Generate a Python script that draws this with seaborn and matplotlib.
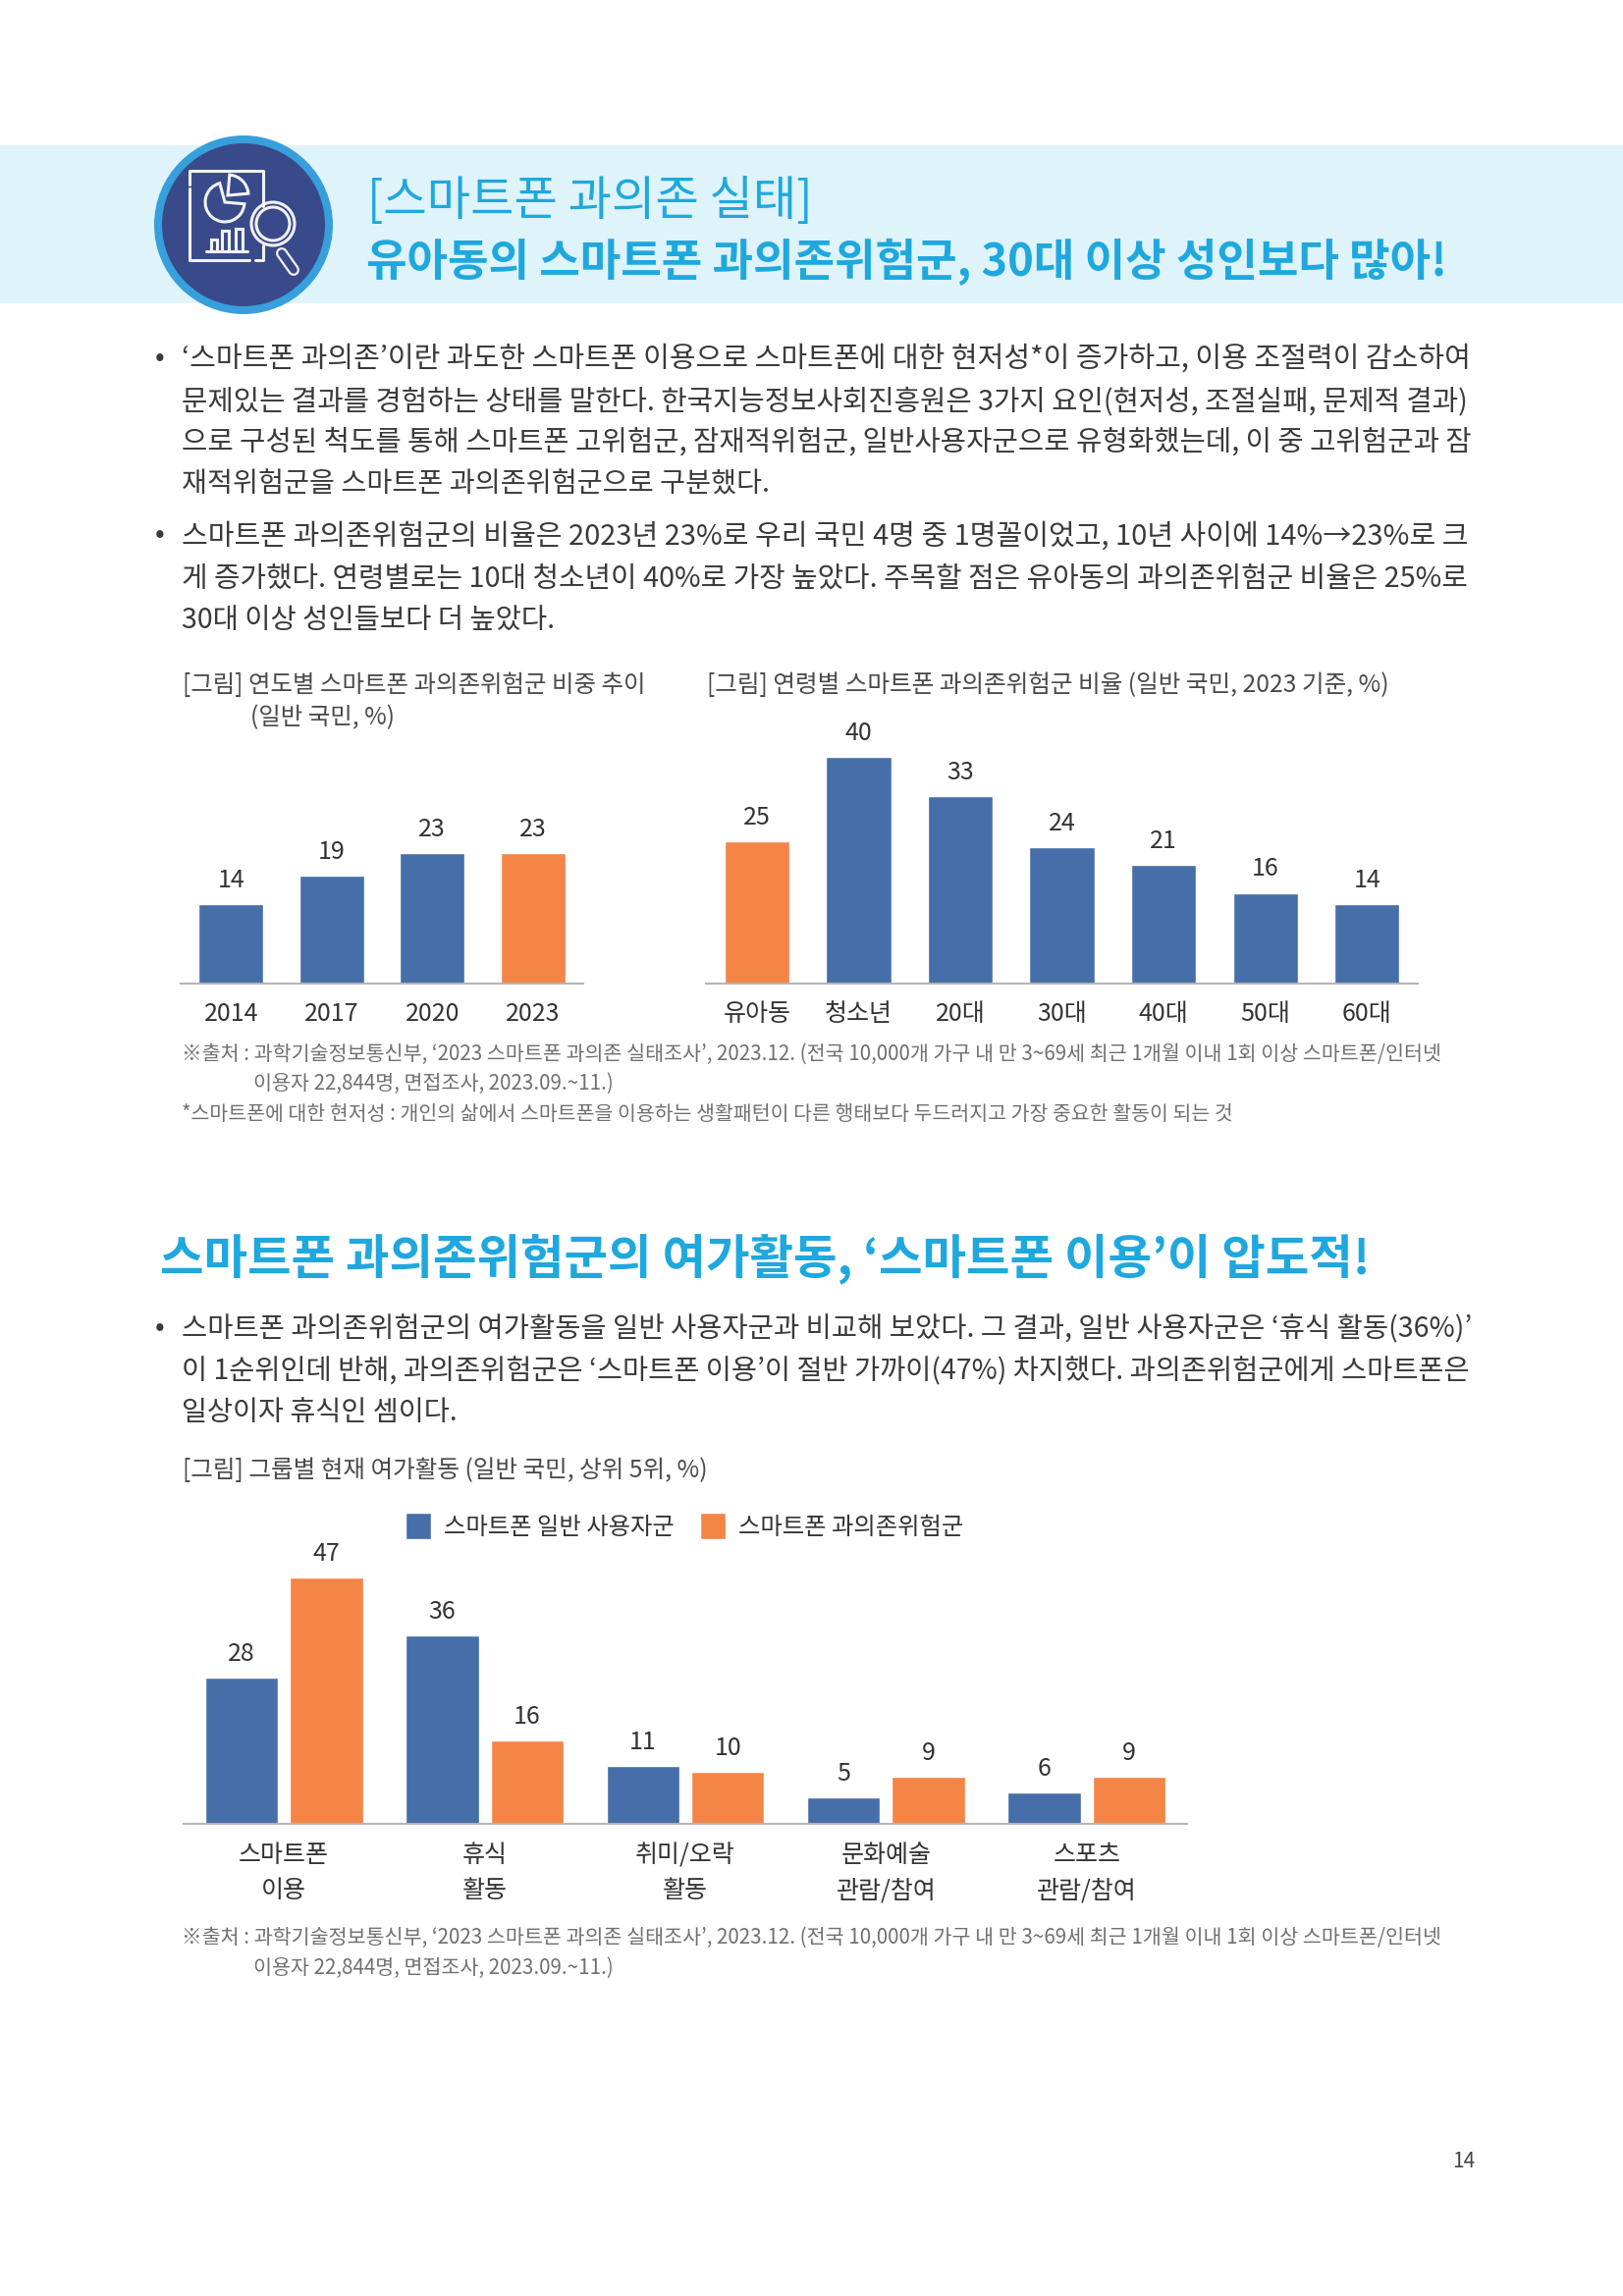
import matplotlib
matplotlib.use("Agg")
import matplotlib.pyplot as plt
import matplotlib.patches as mpatches
import pandas as pd
import seaborn as sns

W, H = 1653, 2339
BLUE = "#466ea8"
ORANGE = "#f58546"
SKY = "#1fa8de"
DARK = "#3a3a3a"
GREY = "#707070"
NAVY = "#394a8a"
ICON = "#f2f2f7"

# chart data
years = ["2014", "2017", "2020", "2023"]
year_values = [14, 19, 23, 23]
ages = ["유아동", "청소년", "20대", "30대", "40대", "50대", "60대"]
age_values = [25, 40, 33, 24, 21, 16, 14]
leisure = ["스마트폰\n이용", "휴식\n활동", "취미/오락\n활동", "문화예술\n관람/참여", "스포츠\n관람/참여"]
normal_users = [28, 36, 11, 5, 6]
risk_users = [47, 16, 10, 9, 9]
group_names = ["스마트폰 일반 사용자군", "스마트폰 과의존위험군"]

sns.set_theme(style="white")
plt.rcParams["font.family"] = ["Noto Sans CJK KR", "DejaVu Sans"]

fig = plt.figure(figsize=(W / 100, H / 100), dpi=100, facecolor="white")

# whole page axes in pixels, for everything that is not a chart
page = fig.add_axes([0, 0, 1, 1])
page.set_xlim(0, W)
page.set_ylim(H, 0)
page.axis("off")


def fit_line(x, y, s, right, size=18, color=DARK, weight="normal"):
    # shrink or grow the font so the line ends where it does in the print
    t = page.text(x, y + 3, s, fontsize=size, color=color, weight=weight, va="center", ha="left")
    r = fig.canvas.get_renderer()
    w = t.get_window_extent(r).width
    t.set_fontsize(size * (right - x) / w)
    return t


def bullet(y):
    page.text(163, y, "•", fontsize=21, color=DARK, ha="center", va="center")


def px_axes(left, right, baseline, height):
    return fig.add_axes([left / W, 1 - baseline / H, (right - left) / W, height / H])


def clean(ax, top, pad=13):
    ax.set_ylim(0, top)
    ax.set_xlabel("")
    ax.set_ylabel("")
    ax.set_yticks([])
    ax.patch.set_alpha(0)
    sns.despine(ax=ax, left=True)
    ax.spines["bottom"].set_color("#b5b5b5")
    ax.spines["bottom"].set_linewidth(1.5)
    ax.tick_params(axis="x", length=0, pad=pad, labelsize=18, labelcolor="#333333")


def labels(ax, size=18):
    for c in ax.containers:
        ax.bar_label(c, padding=8, fontsize=size, color="#333333")


# header band and icon
page.add_patch(mpatches.Rectangle((0, 148), W, 161, color="#dff3fa", lw=0))
page.add_patch(mpatches.Circle((248, 229), 91, color="#379fdb", lw=0))
page.add_patch(mpatches.Circle((248, 229), 83, color=NAVY, lw=0))
ink = dict(fill=False, ec=ICON, lw=2.2)
page.plot([193, 193, 268, 268], [188, 174, 174, 210], color=ICON, lw=2.2)
page.plot([268, 268, 260], [250, 265, 265], color=ICON, lw=2.2)
page.plot([193, 193, 254], [192, 265, 265], color=ICON, lw=2.2)
page.add_patch(mpatches.Wedge((229, 206), 20, 5, 255, **ink))
page.add_patch(mpatches.Wedge((232, 199), 21, -85, -5, **ink))
page.plot([210, 252], [256, 256], color=ICON, lw=2.2)
for bx, by, bw in [(215, 244, 6), (226, 235, 7), (240, 233, 7)]:
    page.add_patch(mpatches.Rectangle((bx, by), bw, 256 - by, **ink))
page.add_patch(mpatches.Circle((278, 228), 22, **ink))
page.add_patch(mpatches.Circle((278, 228), 17, **ink))
page.plot([287, 299], [258, 275], color=ICON, lw=8.6, solid_capstyle="round")
page.plot([287, 299], [258, 275], color=NAVY, lw=5.4, solid_capstyle="round")

fit_line(374, 202, "[스마트폰 과의존 실태]", 828, size=34, color=SKY)
fit_line(373, 264, "유아동의 스마트폰 과의존위험군, 30대 이상 성인보다 많아!", 1477, size=34, color=SKY, weight="bold")

# first text block
bullet(365)
bullet(545)
fit_line(185, 363, "‘스마트폰 과의존’이란 과도한 스마트폰 이용으로 스마트폰에 대한 현저성*이 증가하고, 이용 조절력이 감소하여", 1497)
fit_line(185, 406, "문제있는 결과를 경험하는 상태를 말한다. 한국지능정보사회진흥원은 3가지 요인(현저성, 조절실패, 문제적 결과)", 1497)
fit_line(185, 448, "으로 구성된 척도를 통해 스마트폰 고위험군, 잠재적위험군, 일반사용자군으로 유형화했는데, 이 중 고위험군과 잠", 1497)
fit_line(185, 491, "재적위험군을 스마트폰 과의존위험군으로 구분했다.", 783)
fit_line(185, 544, "스마트폰 과의존위험군의 비율은 2023년 23%로 우리 국민 4명 중 1명꼴이었고, 10년 사이에 14%→23%로 크", 1497)
fit_line(185, 587, "게 증가했다. 연령별로는 10대 청소년이 40%로 가장 높았다. 주목할 점은 유아동의 과의존위험군 비율은 25%로", 1497)
fit_line(185, 629, "30대 이상 성인들보다 더 높았다.", 566)

# captions of the two upper charts
fit_line(186, 695, "[그림] 연도별 스마트폰 과의존위험군 비중 추이", 657, color="#4a4a4a")
fit_line(255, 728, "(일반 국민, %)", 402, color="#4a4a4a")
fit_line(720, 695, "[그림] 연령별 스마트폰 과의존위험군 비율 (일반 국민, 2023 기준, %)", 1416, color="#4a4a4a")

# year chart
ax1 = px_axes(184, 594, 1002, 42 * 5.78)
df1 = pd.DataFrame({"year": years, "share": year_values})
sns.barplot(data=df1, x="year", y="share", hue="year", palette=[BLUE, BLUE, BLUE, ORANGE],
            width=0.64, saturation=1, legend=False, ax=ax1)
clean(ax1, 42)
labels(ax1)

# age chart
ax2 = px_axes(719, 1444, 1002, 42 * 5.78)
df2 = pd.DataFrame({"age": ages, "share": age_values})
sns.barplot(data=df2, x="age", y="share", hue="age", palette=[ORANGE] + [BLUE] * 6,
            width=0.64, saturation=1, legend=False, ax=ax2)
clean(ax2, 42)
labels(ax2)

source_1 = "※출처 : 과학기술정보통신부, ‘2023 스마트폰 과의존 실태조사’, 2023.12. (전국 10,000개 가구 내 만 3~69세 최근 1개월 이내 1회 이상 스마트폰/인터넷"
source_2 = "이용자 22,844명, 면접조사, 2023.09.~11.)"
fit_line(185, 1071, source_1, 1465, size=15, color=GREY)
fit_line(258, 1101, source_2, 625, size=15, color=GREY)
fit_line(185, 1132, "*스마트폰에 대한 현저성 : 개인의 삶에서 스마트폰을 이용하는 생활패턴이 다른 행태보다 두드러지고 가장 중요한 활동이 되는 것", 1250, size=15, color=GREY)

# second section
fit_line(163, 1280, "스마트폰 과의존위험군의 여가활동, ‘스마트폰 이용’이 압도적!", 1398, size=34, color=SKY, weight="bold")
bullet(1353)
fit_line(185, 1351, "스마트폰 과의존위험군의 여가활동을 일반 사용자군과 비교해 보았다. 그 결과, 일반 사용자군은 ‘휴식 활동(36%)’", 1497)
fit_line(185, 1394, "이 1순위인데 반해, 과의존위험군은 ‘스마트폰 이용’이 절반 가까이(47%) 차지했다. 과의존위험군에게 스마트폰은", 1497)
fit_line(185, 1436, "일상이자 휴식인 셈이다.", 466)
fit_line(186, 1495, "[그림] 그룹별 현재 여가활동 (일반 국민, 상위 5위, %)", 721, color="#4a4a4a")

# grouped chart
df3 = pd.DataFrame({
    "activity": leisure * 2,
    "share": normal_users + risk_users,
    "group": [group_names[0]] * 5 + [group_names[1]] * 5,
})
ax3 = px_axes(187, 1209, 1858, 55 * 5.33)
sns.barplot(data=df3, x="activity", y="share", hue="group", palette=[BLUE, ORANGE],
            width=0.846, gap=0.14, saturation=1, ax=ax3)
clean(ax3, 55, pad=14)
labels(ax3)
for t in ax3.get_xticklabels():
    t.set_linespacing(1.5)
sns.move_legend(ax3, "center left", bbox_to_anchor=((412 - 186) / 1022, (1858 - 1555) / (55 * 5.33)),
                ncol=2, frameon=False, title=None, fontsize=17.5, labelcolor="#333333",
                handlelength=1.05, handleheight=1.3, handletextpad=0.55, columnspacing=1.1,
                borderpad=0, borderaxespad=0)

fit_line(185, 1971, source_1, 1465, size=15, color=GREY)
fit_line(258, 2002, source_2, 625, size=15, color=GREY)

page.text(1491, 2202, "14", fontsize=15, color="#444444", ha="center", va="center")

fig.savefig("out.png", dpi=100)
